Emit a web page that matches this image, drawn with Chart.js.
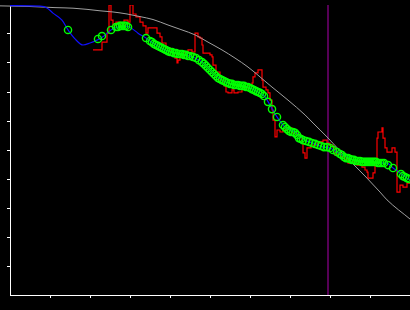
<!DOCTYPE html>
<html>
<head>
<meta charset="utf-8">
<script src="https://cdn.jsdelivr.net/npm/chart.js@4/dist/chart.umd.min.js"></script>
<style>
  html, body { margin: 0; padding: 0; background: #000; }
  #wrap { width: 410px; height: 310px; }
</style>
</head>
<body>
<div id="wrap"><canvas id="plot"></canvas></div>
<script>
// axis ticks (no labels shown in the picture)
const xTicks = [0, 1, 2, 3, 4, 5, 6, 7, 8, 9, 10];
const yTicks = [0, 1, 2, 3, 4, 5, 6, 7, 8, 9, 10];

// gray reference curve
const grayCurve = [
  [-0.25, 9.97], [0.45, 9.95], [1.125, 9.91], [1.575, 9.89], [1.925, 9.85],
  [2.25, 9.80], [2.575, 9.76], [2.925, 9.69], [3.25, 9.60], [3.575, 9.50],
  [3.95, 9.31], [4.3, 9.14], [4.625, 8.97], [4.95, 8.72], [5.3, 8.45],
  [5.625, 8.17], [5.95, 7.86], [6.55, 7.17], [6.95, 6.72], [7.375, 6.21],
  [7.575, 5.93], [7.925, 5.45], [8.25, 4.97], [8.575, 4.52], [8.925, 4.03],
  [9.25, 3.55], [9.425, 3.28], [10, 2.62]
];

// blue smoothed line
const blueLine = [
  [0, 9.98], [0.75, 9.96], [0.925, 9.90], [1.075, 9.72], [1.3, 9.48],
  [1.45, 9.14], [1.625, 8.83], [1.825, 8.62], [2.0, 8.69], [2.175, 8.79],
  [2.35, 8.93], [2.525, 9.14], [2.7, 9.24], [2.875, 9.28], [3.025, 9.21],
  [3.2, 9.03], [3.4, 8.86], [3.575, 8.69], [3.875, 8.45], [4.125, 8.34],
  [4.375, 8.28], [4.625, 8.17], [4.8, 8.03], [4.95, 7.83], [5.125, 7.59],
  [5.3, 7.41], [5.45, 7.31], [5.7, 7.24], [5.95, 7.17], [6.2, 7.00],
  [6.375, 6.83], [6.5, 6.55], [6.675, 6.14], [6.875, 5.79], [7.125, 5.62],
  [7.375, 5.34], [7.575, 5.24], [7.825, 5.10], [8.0, 5.07], [8.2, 4.90],
  [8.425, 4.76], [8.575, 4.66], [8.925, 4.59], [9.175, 4.55], [9.425, 4.55],
  [9.575, 4.38], [9.75, 4.21], [9.925, 4.03], [10, 3.97]
];

// green sample markers
const greenPoints = [
  [1.45, 9.14], [2.2, 8.83], [2.3, 8.93], [2.525, 9.14], [2.65, 9.24], [2.7, 9.24],
  [2.75, 9.28], [2.8, 9.28], [2.85, 9.28], [2.9, 9.28], [2.95, 9.24], [3.4, 8.86],
  [3.5, 8.76], [3.55, 8.72], [3.6, 8.66], [3.65, 8.62], [3.7, 8.59], [3.75, 8.55],
  [3.8, 8.52], [3.85, 8.48], [3.9, 8.45], [3.95, 8.41], [4.0, 8.38], [4.05, 8.38],
  [4.1, 8.34], [4.15, 8.34], [4.2, 8.31], [4.25, 8.31], [4.3, 8.31], [4.35, 8.28],
  [4.4, 8.28], [4.45, 8.24], [4.5, 8.24], [4.575, 8.21], [4.65, 8.17], [4.725, 8.10],
  [4.8, 8.03], [4.85, 7.97], [4.9, 7.90], [4.95, 7.83], [5.0, 7.76], [5.05, 7.69],
  [5.1, 7.62], [5.15, 7.55], [5.2, 7.48], [5.25, 7.45], [5.3, 7.41], [5.35, 7.38],
  [5.4, 7.34], [5.45, 7.31], [5.5, 7.28], [5.55, 7.28], [5.6, 7.24], [5.65, 7.24],
  [5.7, 7.24], [5.75, 7.21], [5.8, 7.21], [5.85, 7.21], [5.9, 7.17], [5.95, 7.17],
  [6.0, 7.14], [6.05, 7.10], [6.1, 7.07], [6.15, 7.03], [6.2, 7.00], [6.25, 6.97],
  [6.3, 6.93], [6.35, 6.86], [6.45, 6.66], [6.55, 6.41], [6.675, 6.14],
  [6.825, 5.86], [6.875, 5.79], [6.925, 5.72], [6.975, 5.66], [7.025, 5.62],
  [7.075, 5.62], [7.125, 5.59], [7.175, 5.52], [7.225, 5.41], [7.275, 5.38],
  [7.325, 5.34], [7.4, 5.31], [7.475, 5.28], [7.55, 5.24], [7.625, 5.21],
  [7.7, 5.17], [7.775, 5.14], [7.85, 5.10], [7.925, 5.10], [8.0, 5.07],
  [8.075, 5.00], [8.175, 4.93], [8.25, 4.86], [8.3, 4.83], [8.35, 4.76],
  [8.4, 4.72], [8.45, 4.72], [8.5, 4.69], [8.55, 4.66], [8.6, 4.66], [8.65, 4.62],
  [8.7, 4.62], [8.75, 4.62], [8.8, 4.59], [8.85, 4.59], [8.9, 4.59], [8.95, 4.59],
  [9.0, 4.59], [9.05, 4.59], [9.1, 4.59], [9.15, 4.59], [9.2, 4.55], [9.25, 4.55],
  [9.3, 4.55], [9.35, 4.55], [9.45, 4.48], [9.575, 4.38], [9.775, 4.17],
  [9.825, 4.10], [9.875, 4.07], [9.925, 4.03], [9.975, 4.00]
];

// red raw signal
const redSignal = [
  [2.075, 8.45], [2.3, 8.72], [2.425, 9.03], [2.475, 10.0], [2.525, 9.48], [2.575, 9.31],
  [2.65, 9.41], [2.75, 9.31], [2.85, 9.48], [2.95, 9.41], [3.0, 10.0], [3.075, 9.69],
  [3.15, 9.59], [3.25, 9.41], [3.325, 9.28], [3.4, 9.03], [3.45, 9.21], [3.625, 9.21],
  [3.675, 9.03], [3.75, 8.90], [3.8, 8.69], [3.9, 8.52], [4.0, 8.38], [4.075, 8.24],
  [4.125, 8.17], [4.175, 8.00], [4.2, 8.10], [4.25, 8.21], [4.35, 8.38], [4.45, 8.45],
  [4.55, 8.38], [4.625, 9.03], [4.7, 8.90], [4.75, 8.86], [4.8, 8.62], [4.825, 8.34],
  [4.925, 8.34], [5.0, 8.28], [5.05, 8.21], [5.075, 7.93], [5.15, 7.69], [5.25, 7.41],
  [5.35, 7.21], [5.4, 7.00], [5.45, 6.97], [5.55, 7.07], [5.6, 6.97], [5.7, 7.00],
  [5.8, 7.14], [5.95, 7.24], [6.05, 7.31], [6.075, 7.52], [6.125, 7.66], [6.2, 7.76],
  [6.25, 7.76], [6.3, 7.41], [6.325, 7.17], [6.4, 7.07], [6.45, 6.97], [6.5, 6.72],
  [6.55, 6.38], [6.575, 6.03], [6.625, 5.45], [6.675, 5.69], [6.75, 5.62], [6.825, 5.69],
  [6.925, 5.76], [7.05, 5.59], [7.175, 5.52], [7.25, 5.45], [7.3, 5.24], [7.325, 4.90],
  [7.375, 4.72], [7.425, 5.07], [7.525, 5.17], [7.675, 5.24], [7.75, 5.28], [7.825, 5.34],
  [7.925, 5.24], [8.0, 5.17], [8.075, 5.10], [8.125, 4.83], [8.2, 4.90], [8.275, 4.76],
  [8.375, 4.66], [8.45, 4.55], [8.55, 4.59], [8.675, 4.48], [8.8, 4.41], [8.875, 4.31],
  [8.925, 4.24], [8.95, 4.03], [9.075, 4.21], [9.125, 4.55], [9.175, 5.41], [9.2, 5.62],
  [9.3, 5.76], [9.325, 5.41], [9.375, 5.07], [9.425, 4.93], [9.55, 5.07], [9.625, 4.93],
  [9.675, 4.48], [9.675, 3.55], [9.75, 3.79], [9.825, 3.72], [9.925, 3.86], [10.0, 3.86]
];

// vertical marker
const markerX = 7.95;

function toXY(arr) {
  return arr.map(p => ({ x: p[0], y: p[1] }));
}

function edgeColor(ctx) {
  const v = ctx.tick ? ctx.tick.value : null;
  return (v === 0 || v === 10) ? 'rgba(0,0,0,0)' : '#ffffff';
}

const ctx = document.getElementById('plot').getContext('2d');
new Chart(ctx, {
  type: 'scatter',
  data: {
    datasets: [
      {
        data: toXY(greenPoints),
        showLine: false,
        pointRadius: 3.6,
        pointBorderWidth: 1.4,
        pointBorderColor: '#00ff00',
        pointBackgroundColor: 'rgba(0,0,0,0)'
      },
      {
        data: toXY(blueLine),
        showLine: true,
        borderColor: '#1010ff',
        borderWidth: 1.2,
        pointRadius: 0,
        cubicInterpolationMode: 'monotone'
      },
      {
        data: toXY(grayCurve),
        showLine: true,
        borderColor: '#a0a0a0',
        borderWidth: 1,
        pointRadius: 0,
        cubicInterpolationMode: 'monotone',
        clip: { left: 12, top: 5, right: 0, bottom: 0 }
      },
      {
        data: toXY(redSignal),
        showLine: true,
        borderColor: '#ff0000',
        borderWidth: 1.2,
        pointRadius: 0,
        stepped: true
      },
      {
        data: [{ x: markerX, y: 0 }, { x: markerX, y: 10 }],
        showLine: true,
        borderColor: '#900090',
        borderWidth: 1.2,
        pointRadius: 0
      }
    ]
  },
  options: {
    responsive: true,
    maintainAspectRatio: false,
    animation: false,
    layout: { autoPadding: false, padding: { left: 7, right: 0, top: 5, bottom: 12 } },
    plugins: { legend: { display: false }, tooltip: { enabled: false } },
    scales: {
      x: {
        type: 'linear',
        min: 0,
        max: 10,
        afterBuildTicks: axis => { axis.ticks = xTicks.map(v => ({ value: v })); },
        ticks: { display: false },
        grid: { drawOnChartArea: false, drawTicks: true, tickLength: 3, color: edgeColor },
        border: { display: true, color: '#ffffff', width: 1 }
      },
      y: {
        type: 'linear',
        min: 0,
        max: 10,
        afterBuildTicks: axis => { axis.ticks = yTicks.map(v => ({ value: v })); },
        ticks: { display: false },
        grid: { drawOnChartArea: false, drawTicks: true, tickLength: 3, color: edgeColor },
        border: { display: true, color: '#ffffff', width: 1 }
      }
    }
  }
});
</script>
</body>
</html>
